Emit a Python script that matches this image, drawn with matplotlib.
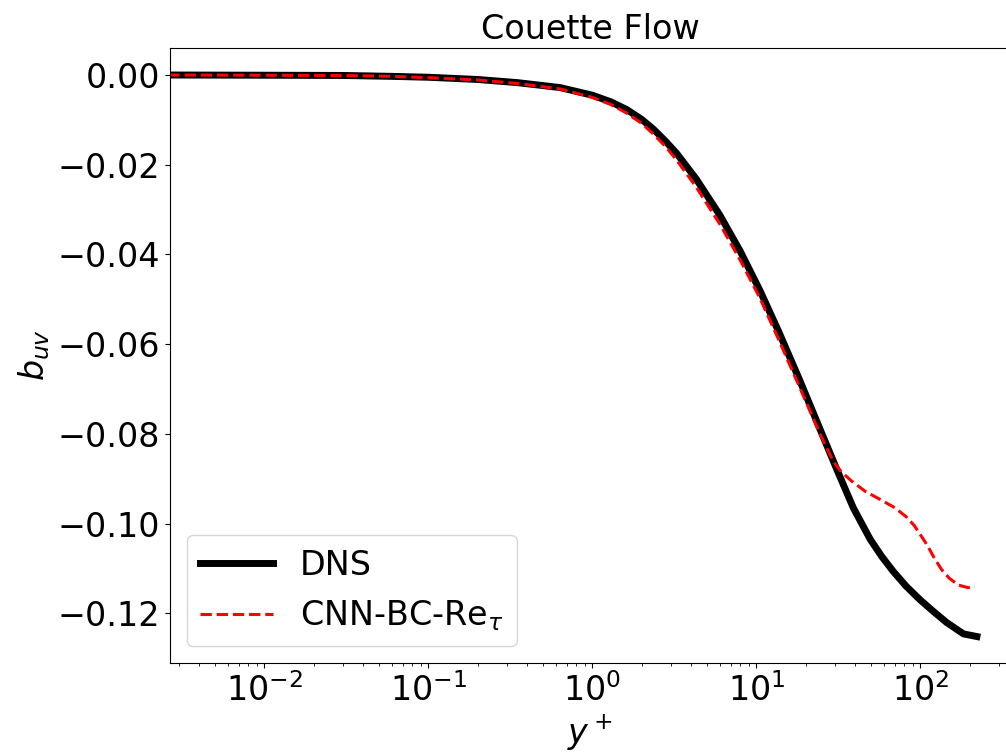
import matplotlib
matplotlib.use("Agg")
import matplotlib.pyplot as plt

# DNS profile of b_uv against y+
dns_y = [0.0026, 0.01, 0.03, 0.06, 0.1, 0.2, 0.35, 0.635, 1.0, 1.3, 1.62, 2.0, 2.36, 2.8,
         3.27, 4.3, 6.0, 7.95, 10.5, 13.6, 18.4, 24.4, 30.9, 39.0, 49.4, 58.0, 68.4, 82.0,
         99.5, 120.0, 145.0, 183.0, 221.0]
dns_b = [0.0, -0.00005, -0.0001, -0.0003, -0.0005, -0.001, -0.0017, -0.0028, -0.0045,
         -0.006, -0.0077, -0.0099, -0.0121, -0.0148, -0.0175, -0.0232, -0.0313, -0.0392,
         -0.048, -0.057, -0.0681, -0.0789, -0.0879, -0.0965, -0.1035, -0.1073, -0.1107,
         -0.114, -0.117, -0.1196, -0.1221, -0.1246, -0.1252]

# CNN prediction
cnn_y = [0.0026, 0.01, 0.03, 0.06, 0.1, 0.2, 0.35, 0.635, 1.0, 1.3, 1.62, 2.0, 2.36, 2.8,
         3.27, 4.3, 6.0, 7.95, 10.5, 13.6, 18.4, 24.4, 29.5, 33.0, 38.0, 46.0, 56.0, 70.0,
         82.0, 92.0, 100.0, 110.0, 122.0, 135.0, 150.0, 170.0, 195.0, 215.0]
cnn_b = [0.0, -0.00005, -0.0001, -0.0003, -0.0006, -0.0011, -0.0019, -0.0031, -0.005,
         -0.0066, -0.0085, -0.0108, -0.0132, -0.016, -0.019, -0.025, -0.0333, -0.0412,
         -0.0497, -0.0588, -0.0697, -0.08, -0.0862, -0.0885, -0.0905, -0.0928, -0.0945,
         -0.0965, -0.0985, -0.1005, -0.1025, -0.1048, -0.1078, -0.1103, -0.1122, -0.1137,
         -0.1143, -0.1141]

plt.rcParams["font.size"] = 24

fig = plt.figure(figsize=(10.06, 7.53), dpi=100)
ax = fig.add_axes([0.169, 0.1195, 0.835, 0.8174])

ax.plot(dns_y, dns_b, color="black", lw=5, label="DNS")
ax.plot(cnn_y, cnn_b, color="red", lw=2.2, ls="--", label=r"CNN-BC-Re$_\tau$")

ax.set_xscale("log")
ax.set_xlim(0.00266, 352)
ax.set_ylim(-0.1311, 0.00613)
ax.set_yticks([0.0, -0.02, -0.04, -0.06, -0.08, -0.10, -0.12])
ax.set_yticklabels(["0.00", "\u22120.02", "\u22120.04", "\u22120.06", "\u22120.08", "\u22120.10", "\u22120.12"])

ax.set_xlabel(r"$y^+$")
ax.set_ylabel(r"$b_{uv}$")
ax.set_title("Couette Flow", fontsize=24)
ax.legend(loc="lower left", handlelength=2.2)

fig.savefig("out.png", dpi=100)
